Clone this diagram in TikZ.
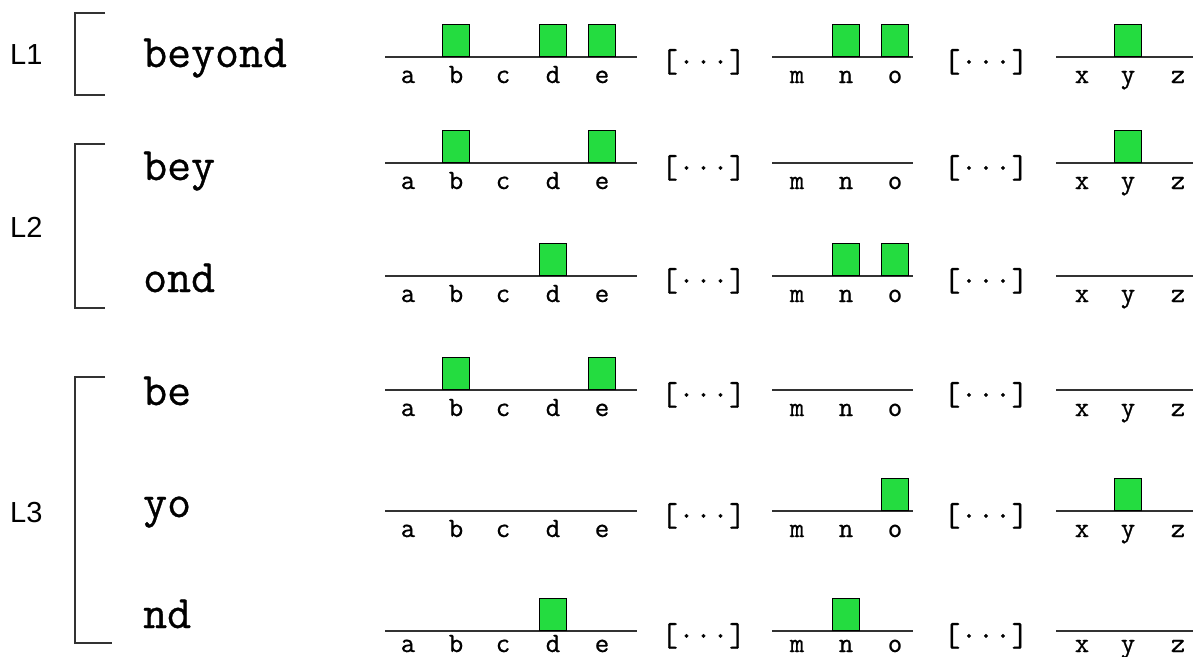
\documentclass[tikz,border=0pt]{standalone}
\usepackage{fontspec}
\setmainfont{Liberation Sans}
\setmonofont{Latin Modern Mono}[AutoFakeBold=0.7]
\usetikzlibrary{positioning}
\definecolor{bitgreen}{RGB}{36,220,64}
\definecolor{rulegray}{RGB}{50,50,50}

\tikzset{
  word/.style={font=\ttfamily\bfseries\fontsize{46.5}{54}\selectfont, inner sep=0pt, anchor=base west},
  letter/.style={font=\ttfamily\bfseries\fontsize{28}{32}\selectfont, inner sep=0pt, anchor=base},
  gap/.style={font=\ttfamily\bfseries\fontsize{33}{38}\selectfont, inner sep=0pt, anchor=base},
  level/.style={font=\fontsize{29}{34}\selectfont, inner sep=0pt, anchor=west},
  track/.style={line width=2pt, draw=rulegray},
  bitbox/.style={draw=black, line width=1.5pt, fill=bitgreen, minimum width=27pt,
    minimum height=32pt, inner sep=0pt, anchor=south},
  levelbracket/.style={line width=2pt, draw=rulegray}
}

\begin{document}
\begin{tikzpicture}[x=1pt,y=-1pt]
\useasboundingbox (0,0) rectangle (1193,656);

% level labels and their brackets
\node[level] (L1) at (10,55) {L1};
\node[level] (L2) at (10,227) {L2};
\node[level] (L3) at (10,513) {L3};
\draw[levelbracket] (105,13) -- (75,13) -- (75,95) -- (105,95);
\draw[levelbracket] (105,144) -- (75,144) -- (75,308) -- (105,308);
\draw[levelbracket] (105,377) -- (75,377) -- (75,643) -- (112,643);

% one row per n-gram: word, three tracks, set bits
\foreach \row/\ly/\word/\wb/\on in {
    1/57/beyond/67/{b,d,e,n,o,y},
    2/163/bey/180/{b,e,y},
    3/276/ond/292/{d,n,o},
    4/390/be/405/{b,e},
    5/511/yo/517/{o,y},
    6/631/nd/628/{d,n}}{
  \node[word] (w\row) at (143,\wb) {\word};
  \coordinate (s\row) at (0,\ly);
  \draw[track] (385,\ly) -- (637,\ly);
  \draw[track] (772,\ly) -- (913,\ly);
  \draw[track] (1056,\ly) -- (1193,\ly);
  \node[gap] (gA\row) at (703.5,\ly+15) {[···]};
  \node[gap] (gB\row) at (986,\ly+15) {[···]};
  \foreach \l/\lx in {a/408,b/456,c/503,d/553,e/602,m/797,n/846,o/895,x/1082,y/1128,z/1178}
    \node[letter] (t\row\l) at (\lx,{min(\ly+26,652)}) {\l};
  \foreach \k in \on
    \node[bitbox] (bit\row\k) at (t\row\k |- s\row) {};
}
\end{tikzpicture}
\end{document}
